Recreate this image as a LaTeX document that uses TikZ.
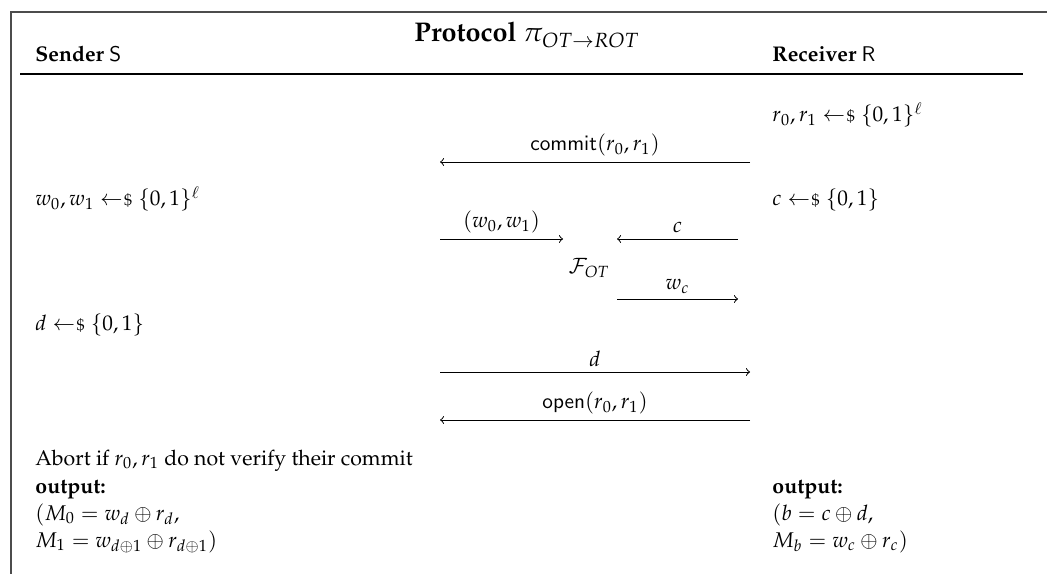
\documentclass[tikz,border=0pt]{standalone}
\usepackage[T1]{fontenc}
\usepackage{amsmath}
\usepackage{mathpazo}
% sampling arrow: left arrow followed by a small dollar sign
\newcommand{\smpl}{\mathrel{\leftarrow\mkern-4mu{\scriptstyle\$}}}
\begin{document}
\begin{tikzpicture}[x=0.47pt,y=-0.47pt,
  frameline/.style={draw=black!70, line width=0.8pt},
  txt/.style={anchor=base west, inner sep=0pt},
  msg/.style={->, line width=0.45pt},
  msglbl/.style={midway, above=2.5pt, inner sep=0pt}]
\useasboundingbox (0,0) rectangle (1047,574);

% frame and header
\draw[frameline] (1047,12) -- (11,12) -- (11,574);
\node[anchor=base, inner sep=0pt] (title) at (527,42)
  {\fontsize{12.7}{15}\selectfont\textbf{Protocol} $\pi_{OT\rightarrow ROT}$};
\node[txt] (snd) at (35,62) {\textbf{Sender} $\mathsf{S}$};
\node[txt] (rcv) at (772,62) {\textbf{Receiver} $\mathsf{R}$};
\draw[line width=0.6pt] (20,74) -- (1023,74);

% local computations
\node[txt] (r01) at (772,122) {$r_0,r_1 \smpl \{0,1\}^\ell$};
\node[txt] (w01) at (35,206) {$w_0,w_1 \smpl \{0,1\}^\ell$};
\node[txt] (csmp) at (772,206) {$c \smpl \{0,1\}$};
\node[txt] (dsmp) at (35,331) {$d \smpl \{0,1\}$};
\node[txt] (abort) at (35,465) {Abort if $r_0,r_1$ do not verify their commit};
\node[txt] (outS) at (35,493) {\textbf{output:}};
\node[txt] (outS1) at (35,520) {$(M_0 = w_d \oplus r_d,$};
\node[txt] (outS2) at (35,547) {$M_1 = w_{d\oplus 1} \oplus r_{d\oplus 1})$};
\node[txt] (outR) at (772,493) {\textbf{output:}};
\node[txt] (outR1) at (772,520) {$(b = c \oplus d,$};
\node[txt] (outR2) at (772,547) {$M_b = w_c \oplus r_c)$};

% ideal functionality
\node[inner sep=0pt] (fot) at (589,268) {$\mathcal{F}_{OT}$};

% message endpoints
\coordinate (cmR) at (750,162); \coordinate (cmL) at (440,162);
\coordinate (wL) at (440,239);  \coordinate (wR) at (563,239);
\coordinate (cR) at (738,239);  \coordinate (cL) at (617,239);
\coordinate (wcL) at (617,299); \coordinate (wcR) at (738,299);
\coordinate (dL) at (440,372);  \coordinate (dR) at (750,372);
\coordinate (opR) at (750,420); \coordinate (opL) at (440,420);

% messages
\draw[msg] (cmR) -- node[msglbl] {$\mathsf{commit}(r_0,r_1)$} (cmL);
\draw[msg] (wL) -- node[msglbl] {$(w_0,w_1)$} (wR);
\draw[msg] (cR) -- node[msglbl] {$c$} (cL);
\draw[msg] (wcL) -- node[msglbl] {$w_c$} (wcR);
\draw[msg] (dL) -- node[msglbl] {$d$} (dR);
\draw[msg] (opR) -- node[msglbl] {$\mathsf{open}(r_0,r_1)$} (opL);
\end{tikzpicture}
\end{document}
